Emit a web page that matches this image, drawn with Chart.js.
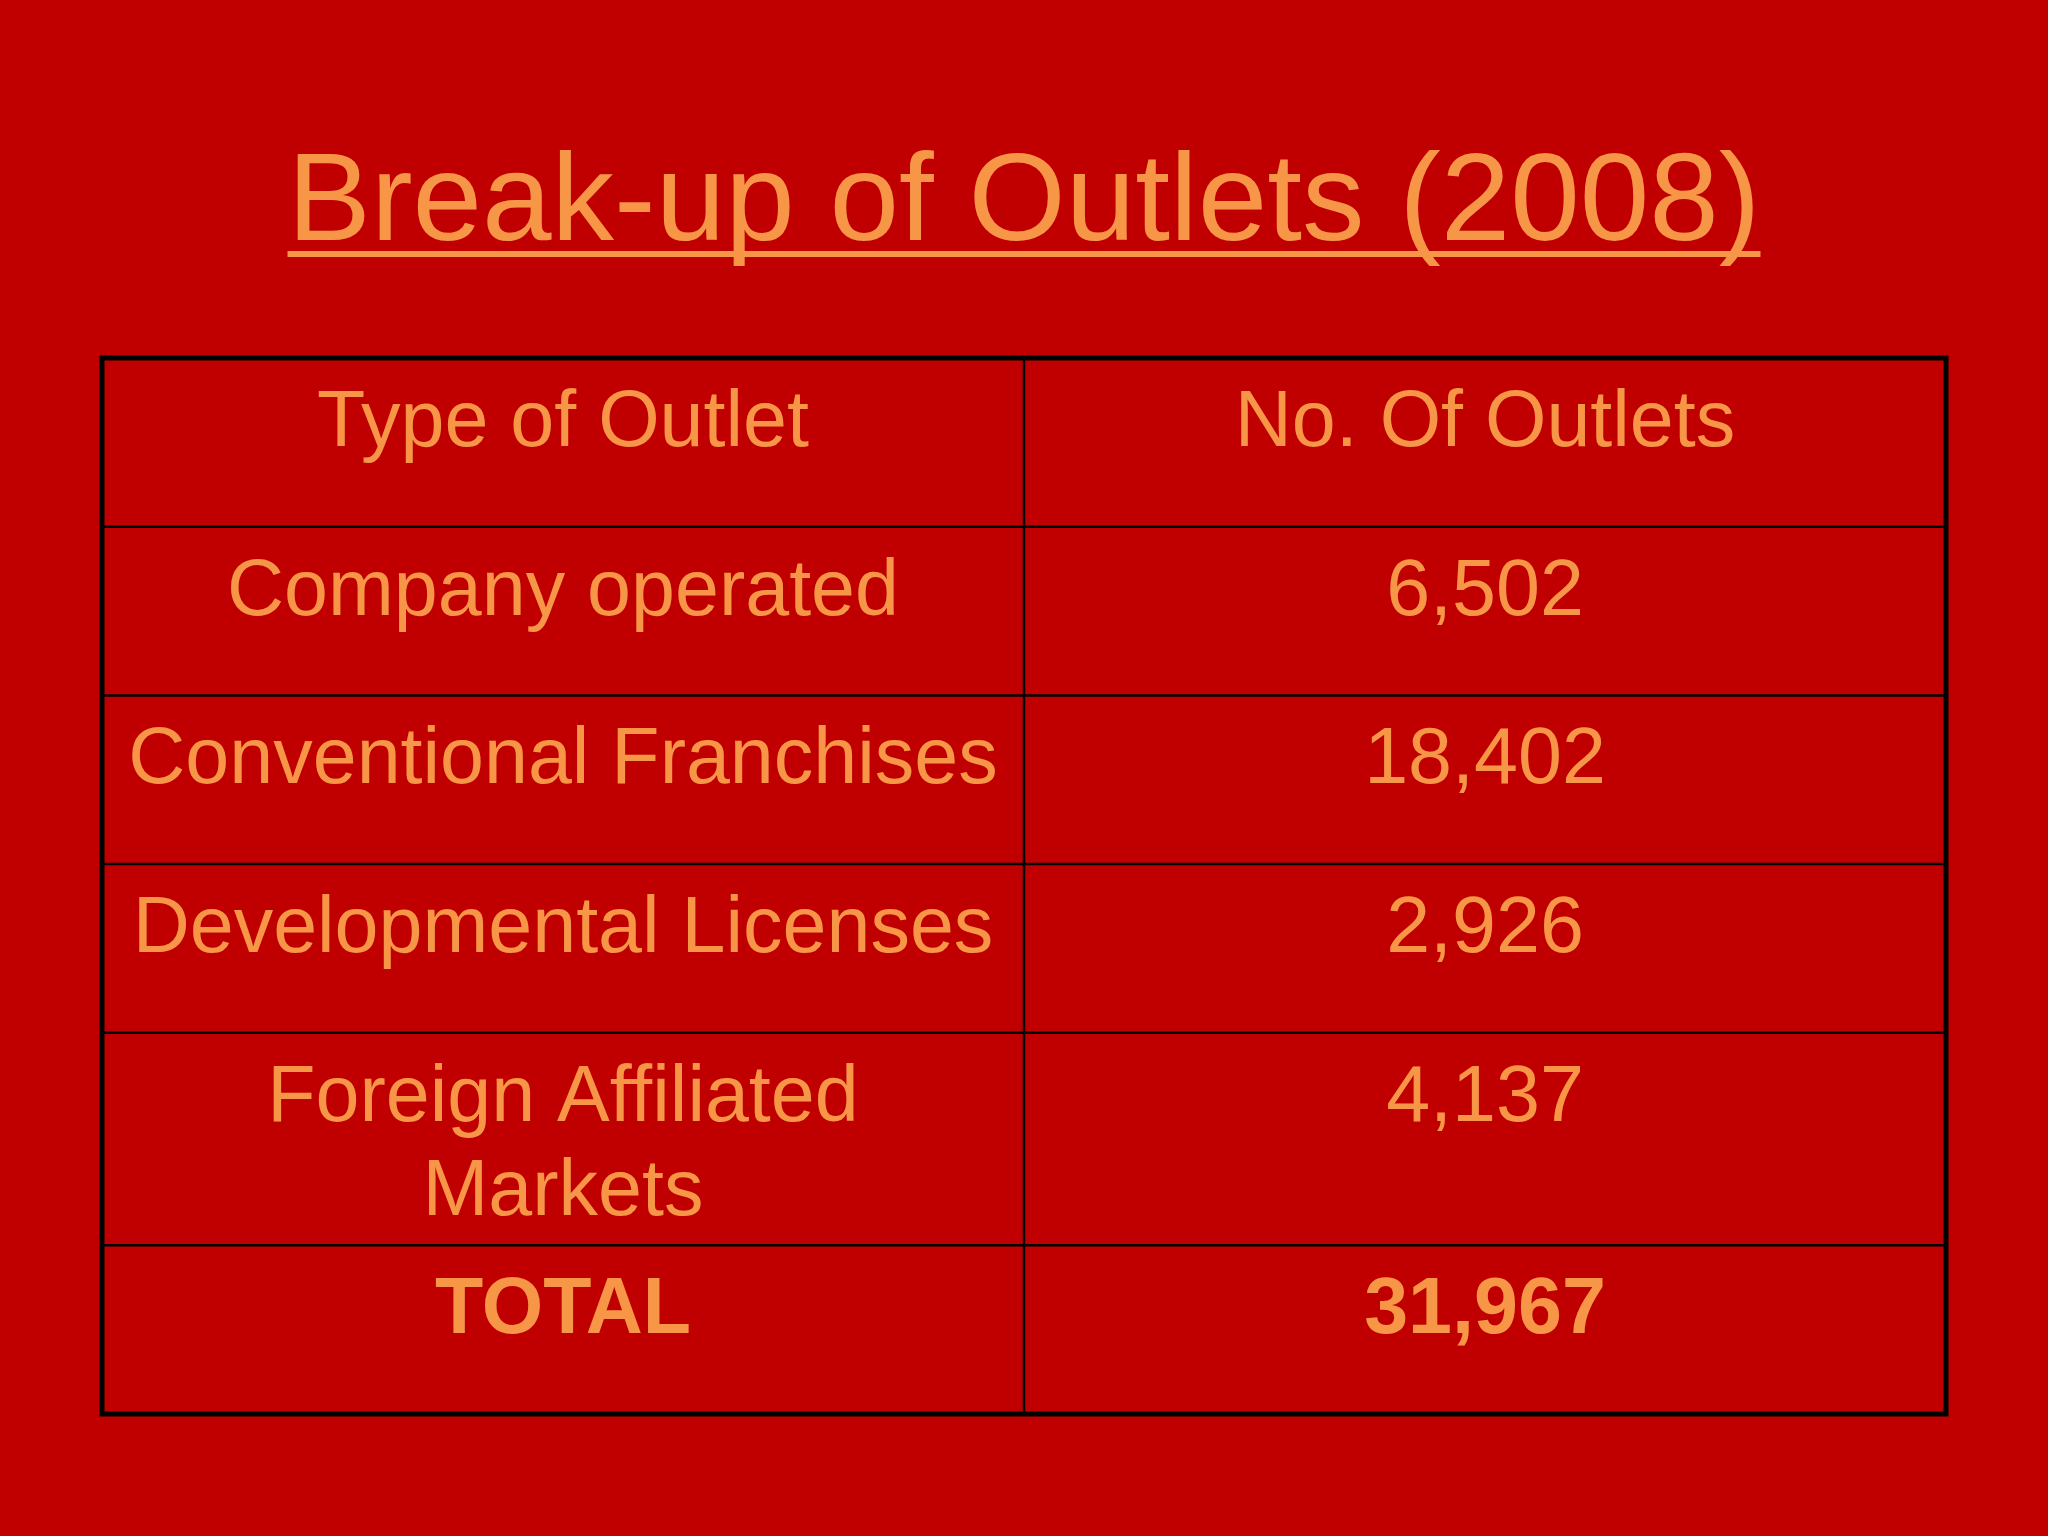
<!DOCTYPE html>
<html>
<head>
<meta charset="utf-8">
<script src="https://cdn.jsdelivr.net/npm/chart.js@4"></script>
<style>
  html, body { margin: 0; padding: 0; background: #c00000; }
  #wrap { width: 2048px; height: 1536px; }
</style>
</head>
<body>
<div id="wrap"><canvas id="outlets"></canvas></div>
<script>
const title = "Break-up of Outlets (2008)";
const headers = ["Type of Outlet", "No. Of Outlets"];
const outletTypes = [["Company operated"], ["Conventional Franchises"], ["Developmental Licenses"], ["Foreign Affiliated", "Markets"]];
const outletCounts = ["6,502", "18,402", "2,926", "4,137"];
const totalLabel = "TOTAL";
const totalCount = "31,967";

const orange = "#f79646";
const font = "'Liberation Sans', Arial, sans-serif";

// Build rows: header, data rows, total
const rows = [{ cells: [[headers[0]], [headers[1]]], bold: false }];
outletTypes.forEach((t, i) => rows.push({ cells: [t, [outletCounts[i]]], bold: false }));
rows.push({ cells: [[totalLabel], [totalCount]], bold: true });

// Row spans in y-scale units (taller row for two-line labels)
let acc = 0;
rows.forEach((r) => {
    const lines = Math.max(...r.cells.map((c) => c.length));
    r.start = acc;
    r.span = 1 + 0.26 * (lines - 1);
    acc += r.span;
});
const yMax = acc;

const tablePlugin = {
    id: "tablePlugin",
    afterDraw(chart) {
        const ctx = chart.ctx;
        const x = chart.scales.x;
        const y = chart.scales.y;
        const left = x.getPixelForValue(0), mid = x.getPixelForValue(1), right = x.getPixelForValue(2);
        const top = y.getPixelForValue(0), bottom = y.getPixelForValue(yMax);

        // Title
        ctx.save();
        ctx.fillStyle = orange;
        ctx.font = "125px " + font;
        ctx.textAlign = "center";
        ctx.textBaseline = "alphabetic";
        ctx.fillText(title, 1024, 240);
        const w = ctx.measureText(title).width;
        ctx.fillRect(1024 - w / 2, 251, w, 6);

        // Inner lines
        ctx.strokeStyle = "#000";
        ctx.lineWidth = 2.5;
        ctx.beginPath();
        rows.slice(1).forEach((r) => {
            const py = y.getPixelForValue(r.start);
            ctx.moveTo(left, py); ctx.lineTo(right, py);
        });
        ctx.moveTo(mid, top); ctx.lineTo(mid, bottom);
        ctx.stroke();
        ctx.lineWidth = 5;
        ctx.strokeRect(left, top, right - left, bottom - top);

        // Cell texts
        rows.forEach((r) => {
            const py = y.getPixelForValue(r.start);
            ctx.font = (r.bold ? "bold " : "") + "79px " + font;
            r.cells.forEach((lines, ci) => {
                const cx = x.getPixelForValue(ci + 0.5);
                lines.forEach((line, li) => {
                    ctx.fillText(line, cx, py + 88 + li * 94);
                });
            });
        });
        ctx.restore();
    },
};

new Chart(document.getElementById("outlets").getContext("2d"), {
    type: "bar",
    data: { labels: [], datasets: [{ data: [] }] },
    options: {
        responsive: true,
        maintainAspectRatio: false,
        animation: false,
        devicePixelRatio: 1,
        layout: { padding: { left: 102, right: 102, top: 358, bottom: 122 } },
        plugins: { legend: { display: false }, tooltip: { enabled: false } },
        scales: {
            x: { type: "linear", min: 0, max: 2, offset: false, display: false },
            y: { type: "linear", min: 0, max: yMax, reverse: true, offset: false, display: false },
        },
    },
    plugins: [tablePlugin],
});
</script>
</body>
</html>
